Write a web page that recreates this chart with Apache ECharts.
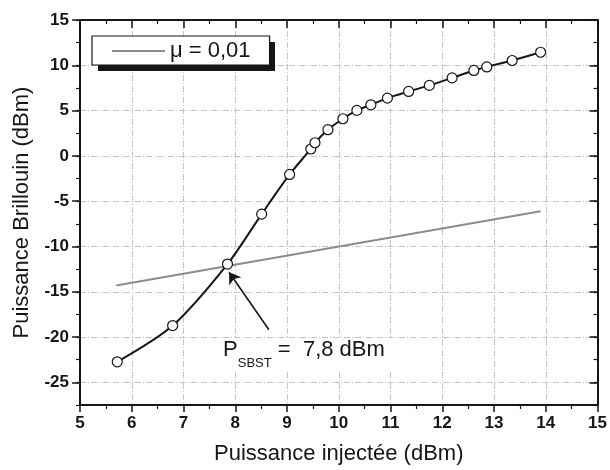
<!DOCTYPE html>
<html><head><meta charset="utf-8">
<script src="https://cdn.jsdelivr.net/npm/echarts@6/dist/echarts.min.js"></script>
<style>html,body{margin:0;padding:0;background:#fff}#c{width:610px;height:470px}</style>
</head><body><div id="c"></div>
<script>
// ---- data ----
const injectedPower = [5.72, 6.79, 7.85, 8.51, 9.05, 9.46, 9.54, 9.79, 10.08, 10.35, 10.62, 10.94, 11.35, 11.75, 12.19, 12.61, 12.86, 13.35, 13.90];
const brillouinPower = [-22.73, -18.73, -11.94, -6.43, -2.05, 0.76, 1.45, 2.89, 4.10, 5.02, 5.64, 6.38, 7.11, 7.78, 8.61, 9.43, 9.82, 10.53, 11.44];
const muLineX = [5.7, 13.9];
const muLineY = [-14.3, -6.1];
const legendLabel = 'μ = 0,01';
const xTicks = [5, 6, 7, 8, 9, 10, 11, 12, 13, 14, 15];
const yTicks = [-25, -20, -15, -10, -5, 0, 5, 10, 15];
const xName = 'Puissance injectée (dBm)';
const yName = 'Puissance Brillouin (dBm)';
const arrowFrom = [8.65, -19.2];
const arrowTo = [7.88, -12.85];
const noteAnchor = [7.33, -21.96];
const noteMain = 'P', noteSub = 'SBST', noteRest = ' =  7,8 dBm';

// ---- chart ----
const FONT = '"Liberation Sans", Arial, Helvetica, sans-serif';
const INK = '#161616';
const xMin = xTicks[0], xMax = xTicks[xTicks.length - 1];
const yMin = -27.5, yMax = yTicks[yTicks.length - 1];
const axisLine = { show: true, onZero: false, lineStyle: { color: INK, width: 2 } };
const gridLine = { show: true, lineStyle: { color: '#c4c4c4', width: 1, type: [6, 2, 1, 2] } };
const tickLabel = { fontSize: 17, fontWeight: 'bold', color: INK, fontFamily: FONT };

const curve = injectedPower.map((x, i) => [x, brillouinPower[i]]);
const muLine = muLineX.map((x, i) => [x, muLineY[i]]);

const chart = echarts.init(document.getElementById('c'), null, { renderer: 'canvas' });
chart.setOption({
  animation: false,
  backgroundColor: '#fff',
  grid: { left: 80, right: 10, top: 20, bottom: 64, containLabel: false },
  graphic: [{
    type: 'rect', id: 'legendShadow', left: 98, top: 42, z: 1, silent: true,
    shape: { width: 177, height: 29 }, style: { fill: INK }
  }],
  legend: {
    data: [legendLabel], left: 92, top: 36, selectedMode: false, z: 10,
    icon: 'rect',
    padding: [4, 19, 3, 20], itemWidth: 53, itemHeight: 2, itemGap: 0,
    backgroundColor: '#fff', borderColor: INK, borderWidth: 1.2,
    textStyle: { fontSize: 22, color: INK, fontFamily: FONT }
  },
  xAxis: [
    {
      type: 'value', position: 'bottom', min: xMin, max: xMax, interval: 1,
      axisLine, axisTick: { show: true, inside: false, length: 7, lineStyle: { color: INK, width: 1.5 } },
      minorTick: { show: true, splitNumber: 2, length: 4, lineStyle: { color: INK, width: 1.2 } },
      axisLabel: { ...tickLabel, margin: 10 }, splitLine: gridLine,
      name: xName, nameLocation: 'middle', nameGap: 38,
      nameTextStyle: { fontSize: 22, color: INK, fontFamily: FONT }
    },
    {
      type: 'value', position: 'top', min: xMin, max: xMax, interval: 1,
      axisLine, axisTick: { show: true, inside: true, length: 8, lineStyle: { color: INK, width: 1.5 } },
      minorTick: { show: true, splitNumber: 2, length: 4, lineStyle: { color: INK, width: 1.2 } },
      axisLabel: { show: false }, splitLine: { show: false }
    }
  ],
  yAxis: [
    {
      type: 'value', position: 'left', offset: 0, min: yMin, max: yMax, interval: 2.5,
      axisLine, axisTick: { show: true, inside: false, length: 4, lineStyle: { color: INK, width: 1.2 } },
      axisLabel: { show: false }, splitLine: { show: false },
      name: yName, nameLocation: 'middle', nameGap: 47,
      nameTextStyle: { fontSize: 22, color: INK, fontFamily: FONT }
    },
    {
      type: 'value', position: 'left', offset: 0, min: yMin, max: yMax, splitNumber: 8, minInterval: 5, maxInterval: 5,
      axisLine: { show: false },
      axisTick: { show: true, inside: false, length: 8, customValues: yTicks, lineStyle: { color: INK, width: 1.5 } },
      axisLabel: { ...tickLabel, margin: 11, customValues: yTicks }, splitLine: gridLine
    },
    {
      type: 'value', position: 'right', offset: 0, min: yMin, max: yMax, interval: 2.5,
      axisLine, axisTick: { show: true, inside: true, length: 4, lineStyle: { color: INK, width: 1.2 } },
      axisLabel: { show: false }, splitLine: { show: false }
    },
    {
      type: 'value', position: 'right', offset: 0, min: yMin, max: yMax, splitNumber: 8, minInterval: 5, maxInterval: 5,
      axisLine: { show: false },
      axisTick: { show: true, inside: true, length: 8, customValues: yTicks, lineStyle: { color: INK, width: 1.5 } },
      axisLabel: { show: false }, splitLine: { show: false }
    }
  ],
  series: [
    {
      name: legendLabel, type: 'line', xAxisIndex: 0, yAxisIndex: 0, data: muLine,
      symbol: 'none', lineStyle: { color: '#8c8c8c', width: 2 }, itemStyle: { color: '#8c8c8c' },
      silent: true, z: 2,
      markLine: {
        silent: true, animation: false, symbol: ['none', 'arrow'], symbolSize: 11,
        label: { show: false },
        lineStyle: { color: INK, width: 1.6, type: 'solid' },
        data: [[{ coord: arrowFrom }, { coord: arrowTo }]]
      },
      markPoint: {
        silent: true, animation: false, symbol: 'rect', symbolSize: 1,
        itemStyle: { color: 'rgba(0,0,0,0)' },
        data: [{ coord: noteAnchor, value: 0 }],
        label: {
          show: true, position: 'right', distance: 0,
          formatter: '{p|' + noteMain + '}{s|' + noteSub + '}{e|' + noteRest + '}',
          backgroundColor: '#fff', padding: [0, 20, 10, 22],
          rich: {
            p: { fontSize: 22, lineHeight: 22, color: INK, fontFamily: FONT },
            s: { fontSize: 13, lineHeight: 13, color: INK, fontFamily: FONT, padding: [28, 0, 0, 0] },
            e: { fontSize: 22, lineHeight: 22, color: INK, fontFamily: FONT }
          }
        }
      }
    },
    {
      name: 'curve', type: 'line', xAxisIndex: 0, yAxisIndex: 0, data: curve,
      smooth: 0.3, symbol: 'circle', symbolSize: 10, showSymbol: true,
      lineStyle: { color: INK, width: 2 },
      itemStyle: { color: '#fff', borderColor: INK, borderWidth: 1.2 },
      silent: true, z: 3
    }
  ]
});
</script></body></html>
